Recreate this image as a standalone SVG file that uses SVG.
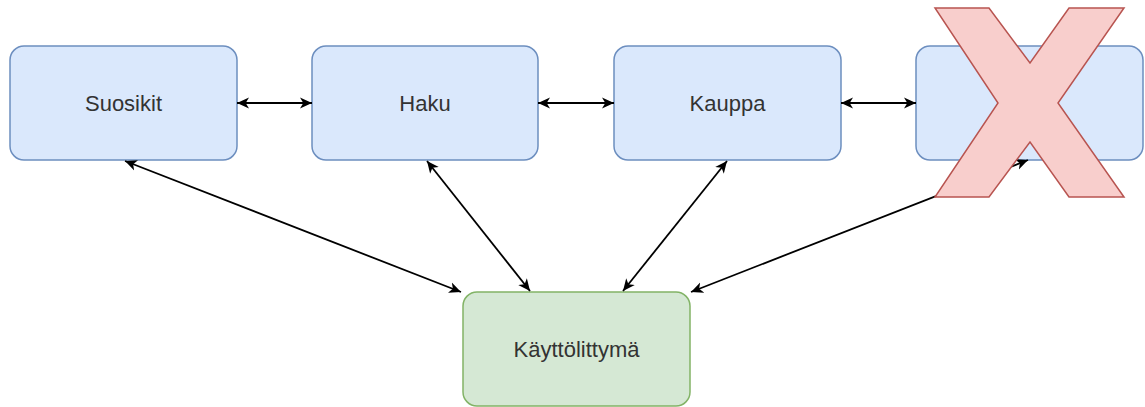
<svg xmlns="http://www.w3.org/2000/svg" width="1145" height="407" viewBox="0 0 1145 407">
  <style>
    .blue { fill: #dae8fc; stroke: #6c8ebf; stroke-width: 1.5; }
    .green { fill: #d5e8d4; stroke: #82b366; stroke-width: 1.5; }
    .lbl { font-family: "Liberation Sans", Arial, sans-serif; font-size: 22px; fill: #333333; text-anchor: middle; dominant-baseline: central; }
    .edge { stroke: #000000; stroke-width: 1.8; fill: none; marker-start: url(#arr); marker-end: url(#arr); }
    .cross { fill: #f8cecc; stroke: #b85450; stroke-width: 1.5; stroke-linejoin: miter; }
  </style>
  <defs>
    <marker id="arr" viewBox="0 0 12 12" refX="12" refY="6" markerWidth="12" markerHeight="12" markerUnits="userSpaceOnUse" orient="auto-start-reverse">
      <path d="M0,0.5 L12,6 L0,11.5 L3.3,6 Z" fill="#000000"/>
    </marker>
  </defs>
  <rect width="1145" height="407" fill="#ffffff"/>

  <g id="node-suosikit">
    <rect class="blue" x="10" y="46" width="227" height="114" rx="14" ry="14"/>
    <text class="lbl" x="123.5" y="103">Suosikit</text>
  </g>
  <g id="node-haku">
    <rect class="blue" x="312" y="46" width="226" height="114" rx="14" ry="14"/>
    <text class="lbl" x="425" y="103">Haku</text>
  </g>
  <g id="node-kauppa">
    <rect class="blue" x="614" y="46" width="227" height="114" rx="14" ry="14"/>
    <text class="lbl" x="727.5" y="103">Kauppa</text>
  </g>
  <g id="node-4">
    <rect class="blue" x="916" y="46" width="227" height="114" rx="14" ry="14"/>
  </g>
  <g id="node-kayttoliittyma">
    <rect class="green" x="463" y="292" width="227" height="114" rx="14" ry="14"/>
    <text class="lbl" x="576.5" y="349">Käyttölittymä</text>
  </g>

  <g id="connectors">
    <line class="edge" x1="237" y1="103" x2="312" y2="103"/>
    <line class="edge" x1="538" y1="103" x2="614" y2="103"/>
    <line class="edge" x1="841" y1="103" x2="916" y2="103"/>
    <line class="edge" x1="125" y1="161" x2="461" y2="292"/>
    <line class="edge" x1="427" y1="161" x2="530" y2="291"/>
    <line class="edge" x1="727" y1="161" x2="623" y2="291"/>
    <line class="edge" x1="1028" y1="160" x2="691" y2="292"/>
  </g>

  <g id="cross">
    <polygon class="cross" points="935,8 989,8 1030,63 1069,8 1124,8 1058,103 1124,197 1069,197 1030,142 989,197 935,197 998,103"/>
  </g>
</svg>
